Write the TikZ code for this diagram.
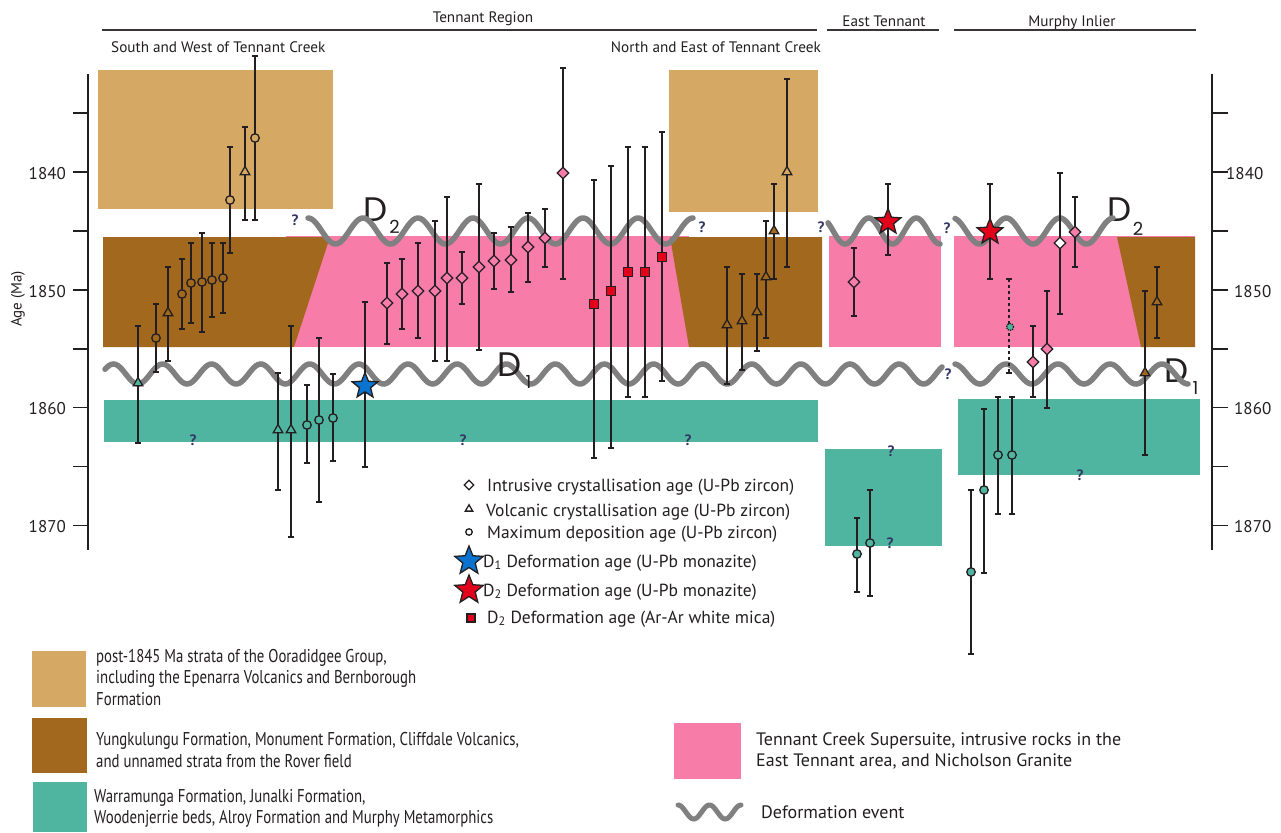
\documentclass[tikz,border=0pt]{standalone}
\usepackage{fontspec}
\setmainfont{PT Sans}
\newfontfamily\dfont{Poppins}
\newfontfamily\condfont[FakeStretch=0.8]{PT Sans}
\usetikzlibrary{shapes.geometric}
\definecolor{ctan}{RGB}{213,168,99}
\definecolor{cbrown}{RGB}{161,104,30}
\definecolor{cpink}{RGB}{247,124,168}
\definecolor{cteal}{RGB}{79,181,160}
\definecolor{cgray}{RGB}{128,128,128}
\definecolor{cred}{RGB}{226,0,26}
\definecolor{cblue}{RGB}{10,114,207}
\definecolor{ink}{RGB}{35,31,32}
\definecolor{qcol}{RGB}{50,55,100}
\newcount\mkn
\newcommand\eb[5]{%
  \draw[ebar] (#1,#2) -- (#1,#3);
  \draw[ecap] (#1-2.8,#2) -- (#1+2.8,#2) (#1-2.8,#3) -- (#1+2.8,#3);
  \global\advance\mkn by 1
  \node[#5] (mk\the\mkn) at (#1,#4) {};}
\tikzset{
  ebar/.style={draw=ink, line width=1.1pt},
  ecap/.style={draw=ink, line width=2pt},
  mk/.style={draw=ink, line width=1.3pt, inner sep=0pt},
  mcirc/.style={mk, circle, minimum size=8.5pt, fill=#1},
  mtri/.style={mk, regular polygon, regular polygon sides=3, minimum size=11pt, fill=#1},
  mdia/.style={mk, diamond, minimum size=12pt, fill=#1},
  msq/.style={mk, rectangle, minimum size=9.5pt, fill=cred},
  mstar/.style={mk, star, star points=5, star point ratio=2.3, minimum size=27pt},
  wave/.style={draw=cgray, line width=5.5pt, line cap=round},
  axisln/.style={draw=ink, line width=1.7pt},
  hline/.style={draw=ink!90, line width=1.5pt},
  hdr/.style={font=\fontsize{15.2}{17}\selectfont, text=ink, inner sep=0pt, anchor=base},
  agelab/.style={font=\fontsize{17}{20}\selectfont, text=ink, inner sep=0pt},
  qm/.style={font=\fontsize{15}{16}\selectfont\bfseries, text=qcol, inner sep=0pt},
  dlab/.style={font=\dfont\fontsize{34}{36}\selectfont, text=ink, inner sep=0pt},
  dsub/.style={font=\dfont\fontsize{18}{20}\selectfont, text=ink, inner sep=0pt},
  legtxt/.style={anchor=base west, inner sep=0pt, text=ink, font=\fontsize{17.5}{20}\selectfont},
  condtxt/.style={anchor=base west, inner sep=0pt, text=ink, font=\condfont\fontsize{18.5}{20}\selectfont},
  pinktxt/.style={anchor=base west, inner sep=0pt, text=ink, font=\fontsize{18}{20}\selectfont},
}
\begin{document}
\begin{tikzpicture}[x=1pt,y=-1pt]
\useasboundingbox (0,0) rectangle (1281,832);
\fill[white] (0,0) rectangle (1281,832);

% ---------- headers ----------
\draw[hline] (102,30) -- (817,30);
\draw[hline] (827,30) -- (939,30);
\draw[hline] (954,30) -- (1196,30);
\node[hdr] (hTR) at (483,23) {Tennant Region};
\node[hdr] (hET) at (884,27) {East Tennant};
\node[hdr] (hMI) at (1072,27) {Murphy Inlier};
\node[hdr, anchor=base west] (hSW) at (111,53) {South and West of Tennant Creek};
\node[hdr, anchor=base east] (hNE) at (821,53) {North and East of Tennant Creek};

% ---------- axes ----------
\draw[axisln] (88,74) -- (88,550);
\draw[axisln] (1212,74) -- (1212,550);
\foreach \a in {1835,1840,...,1870}{
  \draw[axisln] (73,{172+11.78*(\a-1840)}) -- (88,{172+11.78*(\a-1840)});
  \draw[axisln] (1212,{172+11.78*(\a-1840)}) -- (1228,{172+11.78*(\a-1840)});
}
\node[agelab, anchor=base east] (l1840) at (66,179) {1840};
\node[agelab, anchor=base east] (l1850) at (66,297) {1850};
\node[agelab, anchor=base east] (l1860) at (66,414) {1860};
\node[agelab, anchor=base east] (l1870) at (66,532) {1870};
\node[agelab, anchor=base west] (r1840) at (1226,179) {1840};
\node[agelab, anchor=base west] (r1850) at (1234,297) {1850};
\node[agelab, anchor=base west] (r1860) at (1234,414) {1860};
\node[agelab, anchor=base west] (r1870) at (1234,532) {1870};
\node[agelab, font=\fontsize{15}{17}\selectfont, rotate=90] (agetitle) at (18,299) {Age (Ma)};

% ---------- units ----------
\fill[ctan] (98,70) rectangle (333,209);
\fill[ctan] (669,70) rectangle (818,212);
\fill[cpink] (286,236) rectangle (689,347);
\fill[cbrown] (103,237) -- (330,237) -- (294,347) -- (103,347) -- cycle;
\fill[cbrown] (670,237) -- (822,237) -- (822,347) -- (689,347) -- cycle;
\fill[cpink] (829,236) rectangle (941,347);
\fill[cpink] (954,236) rectangle (1195,347);
\fill[cbrown] (1117,237) -- (1195,237) -- (1195,347) -- (1141,347) -- cycle;
\fill[cteal] (104,400) rectangle (818,442);
\fill[cteal] (825,449) rectangle (942,546);
\fill[cteal] (958,399) rectangle (1200,475);

% ---------- deformation labels (under waves) ----------
\node[dlab] (D2a) at (375.5,209.5) {D};
\node[dlab] (D2b) at (1119.5,209.5) {D};
\node[dlab] (D1b) at (1176.5,371) {D};

% ---------- waves ----------
\draw[wave] plot[domain=308:693, samples=220] (\x,{231-13*cos((\x-308)/55*360)});
\draw[wave] plot[domain=828:940, samples=80] (\x,{231+13*cos((\x-845)/47.5*360)});
\draw[wave] plot[domain=955:1113, samples=100] (\x,{231+13*cos((\x-979.5)/53.5*360)});
\draw[wave] plot[domain=105:942, samples=400] (\x,{374+10*cos((\x-138)/49.1*360)});
\draw[wave] plot[domain=955:1188, samples=140] (\x,{374+10*cos((\x-980)/52*360)});
\node[dlab] (D1a) at (509.5,365) {D};
\node[dsub] (D2as) at (394.5,227) {2};
\node[dsub] (D2bs) at (1138,229) {2};
\node[dsub] (D1as) at (528.5,382) {1};
\node[dsub] (D1bs) at (1195.5,387.5) {1};

% ---------- question marks ----------
\node[qm] (q1) at (295,220) {?};
\node[qm] (q2) at (702,227) {?};
\node[qm] (q3) at (821,227) {?};
\node[qm] (q4) at (947,228) {?};
\node[qm] (q5) at (948,374) {?};
\node[qm] (q6) at (193,440) {?};
\node[qm] (q7) at (463,440) {?};
\node[qm] (q8) at (688,440) {?};
\node[qm] (q9) at (891,451) {?};
\node[qm] (q10) at (890,543) {?};
\node[qm] (q11) at (1080,475) {?};

% ---------- data: south and west ----------
\eb{230}{147}{253}{200}{mcirc=ctan}
\eb{245}{127}{220}{172}{mtri=ctan}
\eb{255}{56}{220}{138}{mcirc=ctan}
\eb{138}{326}{443}{383}{mtri=cteal}
\eb{156}{304}{372}{338}{mcirc=cbrown}
\eb{168}{267}{361}{313}{mtri=cbrown}
\eb{182}{259}{329}{294}{mcirc=cbrown}
\eb{191}{243}{323}{283}{mcirc=cbrown}
\eb{202}{233}{332}{282}{mcirc=cbrown}
\eb{212}{243}{317}{280}{mcirc=cbrown}
\eb{223}{243}{313}{278}{mcirc=cbrown}
\eb{278}{373}{490}{430}{mtri=cteal}
\eb{291}{326}{537}{430}{mtri=cteal}
\eb{307}{385}{463}{425}{mcirc=cteal}
\eb{319}{338}{502}{420}{mcirc=cteal}
\eb{333}{374}{461}{418}{mcirc=cteal}
\eb{365}{302}{467}{386}{mstar, fill=cblue}
% intrusives
\eb{387}{263}{344}{303}{mdia=cpink}
\eb{402}{259}{329}{294}{mdia=cpink}
\eb{418}{243}{338}{291}{mdia=cpink}
\eb{435}{221}{361}{291}{mdia=cpink}
\eb{447}{197}{361}{278}{mdia=cpink}
\eb{462}{252}{304}{278}{mdia=cpink}
\eb{479}{184}{350}{267}{mdia=cpink}
\eb{494}{233}{289}{261}{mdia=cpink}
\eb{511}{227}{292}{260}{mdia=cpink}
\eb{528}{213}{282}{247}{mdia=cpink}
\eb{545}{209}{267}{238}{mdia=cpink}
\eb{563}{68}{279}{173}{mdia=cpink}
% Ar-Ar
\eb{594}{180}{458}{304}{msq}
\eb{611}{166}{448}{291}{msq}
\eb{628}{147}{397}{272}{msq}
\eb{645}{147}{397}{272}{msq}
\eb{662}{132}{381}{257}{msq}
% north and east
\eb{727}{267}{384}{325}{mtri=cbrown}
\eb{742}{274}{370}{321}{mtri=cbrown}
\eb{757}{274}{351}{312}{mtri=cbrown}
\eb{766}{221}{338}{277}{mtri=cbrown}
\eb{774}{184}{279}{231}{mtri=cbrown}
\eb{787}{79}{267}{172}{mtri=ctan}
% east tennant
\eb{854}{248}{316}{282}{mdia=cpink}
\eb{888}{184}{255}{222}{mstar, fill=cred}
\eb{857}{518}{592}{554}{mcirc=cteal}
\eb{870}{490}{596}{543}{mcirc=cteal}
% murphy
\eb{990}{184}{279}{232}{mstar, fill=cred}
\draw[ebar, dashed] (1009,279) -- (1009,373);
\draw[ecap] (1006.2,279) -- (1011.8,279) (1006.2,373) -- (1011.8,373);
\node[mk, circle, minimum size=7pt, fill=cteal, densely dotted] (mkd) at (1010,327) {};
\eb{1033}{326}{397}{362}{mdia=cpink}
\eb{1047}{291}{408}{349}{mdia=cpink}
\eb{1060}{173}{314}{243}{mdia=white}
\eb{1075}{197}{267}{232}{mdia=cpink}
\eb{1145}{291}{455}{373}{mtri=cbrown}
\eb{1157}{267}{338}{302}{mtri=cbrown}
\eb{998}{397}{514}{455}{mcirc=cteal}
\eb{1012}{397}{514}{455}{mcirc=cteal}
\eb{984}{409}{573}{490}{mcirc=cteal}
\eb{971}{490}{654}{572}{mcirc=cteal}

% ---------- symbol legend ----------
\node[mk, diamond, minimum size=10pt, fill=white] (lgd) at (469,485) {};
\node[mk, regular polygon, regular polygon sides=3, minimum size=8.5pt, fill=white] (lgt) at (469,509) {};
\node[mk, circle, minimum size=6.5pt, fill=white] (lgc) at (469,532) {};
\node[mstar, fill=cblue, minimum size=30pt] (lgb) at (469,561) {};
\node[mstar, fill=cred, minimum size=30pt] (lgr) at (469,590) {};
\node[mk, rectangle, minimum size=8pt, fill=cred] (lgs) at (471,618) {};
\node[legtxt] (t1) at (487,491) {Intrusive crystallisation age (U-Pb zircon)};
\node[legtxt] (t2) at (486,516) {Volcanic crystallisation age (U-Pb zircon)};
\node[legtxt] (t3) at (487,538) {Maximum deposition age (U-Pb zircon)};
\node[legtxt] (t4) at (483,567) {D\textsubscript{1} Deformation age (U-Pb monazite)};
\node[legtxt] (t5) at (483,596) {D\textsubscript{2} Deformation age (U-Pb monazite)};
\node[legtxt] (t6) at (487,623) {D\textsubscript{2} Deformation age (Ar-Ar white mica)};

% ---------- colour legend ----------
\fill[ctan] (32,651) rectangle (86,707);
\fill[cbrown] (32,718) rectangle (87,773);
\fill[cteal] (33,782) rectangle (87,832);
\fill[cpink] (674,723) rectangle (741,779);
\draw[wave, line width=5pt] plot[domain=678:741, samples=60] (\x,{812-7*cos((\x-678)/31.5*360)});
\node[condtxt] (c1) at (96,662) {post-1845 Ma strata of the Ooradidgee Group,};
\node[condtxt] (c2) at (96,683) {including the Epenarra Volcanics and Bernborough};
\node[condtxt] (c3) at (96,705) {Formation};
\node[condtxt] (c4) at (96,745) {Yungkulungu Formation, Monument Formation, Cliffdale Volcanics,};
\node[condtxt] (c5) at (96,767) {and unnamed strata from the Rover field};
\node[condtxt] (c6) at (94,802) {Warramunga Formation, Junalki Formation,};
\node[condtxt] (c7) at (94,823) {Woodenjerrie beds, Alroy Formation and Murphy Metamorphics};
\node[pinktxt] (c8) at (756,745) {Tennant Creek Supersuite, intrusive rocks in the};
\node[pinktxt] (c9) at (756,766) {East Tennant area, and Nicholson Granite};
\node[pinktxt] (c10) at (761,818) {Deformation event};
\end{tikzpicture}
\end{document}
